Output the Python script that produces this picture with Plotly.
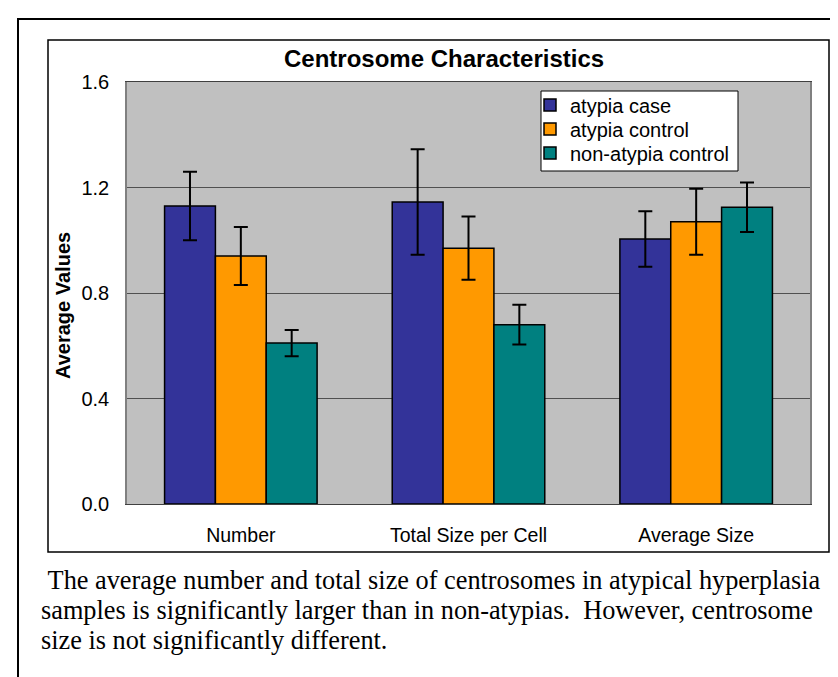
import plotly.graph_objects as go

categories = ["Number", "Total Size per Cell", "Average Size"]
series_names = ["atypia case", "atypia control", "non-atypia control"]
atypia_case = [1.13, 1.145, 1.005]
atypia_case_err = [0.13, 0.20, 0.105]
atypia_control = [0.94, 0.97, 1.07]
atypia_control_err = [0.11, 0.12, 0.125]
non_atypia_control = [0.61, 0.68, 1.125]
non_atypia_control_err = [0.05, 0.075, 0.094]
y_ticks = [0.0, 0.4, 0.8, 1.2, 1.6]
colors = ["#333399", "#FF9900", "#008080"]
caption_lines = [
    "\u00a0The average number and total size of centrosomes in atypical hyperplasia",
    "samples is significantly larger than in non-atypias.\u00a0 However, centrosome",
    "size is not significantly different.",
]

W, H = 838, 677
SANS = "Liberation Sans, Arial"
SERIF = "Liberation Serif, Times New Roman"


def fx(x):
    return x / W


def fy(y):
    return 1 - y / H


def rect(x0, y0, x1, y1, **kw):
    return dict(type="rect", xref="paper", yref="paper",
                x0=fx(x0), x1=fx(x1), y0=fy(y0), y1=fy(y1), **kw)


legend_ids = ["legend", "legend2", "legend3"]
legend_y = [97, 121, 145]

fig = go.Figure()
for name, vals, errs, col, lid in zip(series_names,
                                      [atypia_case, atypia_control, non_atypia_control],
                                      [atypia_case_err, atypia_control_err, non_atypia_control_err],
                                      colors, legend_ids):
    fig.add_trace(go.Bar(
        name=name, x=categories, y=vals, legend=lid,
        marker=dict(color=col, line=dict(color="black", width=1.5)),
        error_y=dict(type="data", array=errs, visible=True, color="black",
                     thickness=2, width=7),
    ))

annotations = [
    dict(text="<b>Centrosome Characteristics</b>", xref="paper", yref="paper",
         x=fx(436), y=fy(51), xanchor="center", yanchor="middle",
         showarrow=False, font=dict(family=SANS, size=24)),
    dict(text="<b>Average Values</b>", xref="paper", yref="paper",
         x=fx(55), y=fy(298), xanchor="center", yanchor="middle", textangle=-90,
         showarrow=False, font=dict(family=SANS, size=20)),
]
for i, line in enumerate(caption_lines):
    annotations.append(dict(
        text=line, xref="paper", yref="paper", x=fx(31), y=fy(572 + 30 * i),
        xanchor="left", yanchor="middle", showarrow=False,
        font=dict(family=SERIF, size=26.3)))

legend_layout = {}
for lid, ly in zip(legend_ids, legend_y):
    legend_layout[lid] = dict(x=fx(522), y=fy(ly), xanchor="left", yanchor="middle",
                              bgcolor="rgba(0,0,0,0)", borderwidth=0,
                              font=dict(family=SANS, size=20), itemwidth=30)

fig.update_layout(
    width=W, height=H, autosize=False,
    margin=dict(l=0, r=0, t=0, b=0, autoexpand=False),
    paper_bgcolor="white", plot_bgcolor="#C0C0C0",
    barmode="group", bargap=0.33, bargroupgap=0,
    font=dict(family=SANS, size=20, color="black"),
    showlegend=True,
    xaxis=dict(domain=[fx(119), fx(802)], automargin=False, showline=True,
               linecolor="#404040", linewidth=1, mirror=True, ticks="",
               tickfont=dict(size=19.5), showgrid=False, ticklabelstandoff=14),
    yaxis=dict(domain=[fy(496), fy(74)], range=[0, 1.6], automargin=False,
               tickvals=y_ticks, ticktext=[f"{v:.1f}" for v in y_ticks],
               showgrid=True, gridcolor="#505050", gridwidth=1,
               showline=True, linecolor="#808080", linewidth=1.5, mirror=True,
               ticks="", zeroline=False, tickfont=dict(size=20),
               ticklabelstandoff=12),
    shapes=[
        rect(10, 11, 860, 700, line=dict(color="black", width=2)),
        rect(40, 32, 821, 544, line=dict(color="black", width=1.5)),
        rect(533, 83, 730, 163, fillcolor="white", layer="above",
             line=dict(color="black", width=1)),
    ],
    annotations=annotations,
    **legend_layout,
)
fig.write_html("out.html")
